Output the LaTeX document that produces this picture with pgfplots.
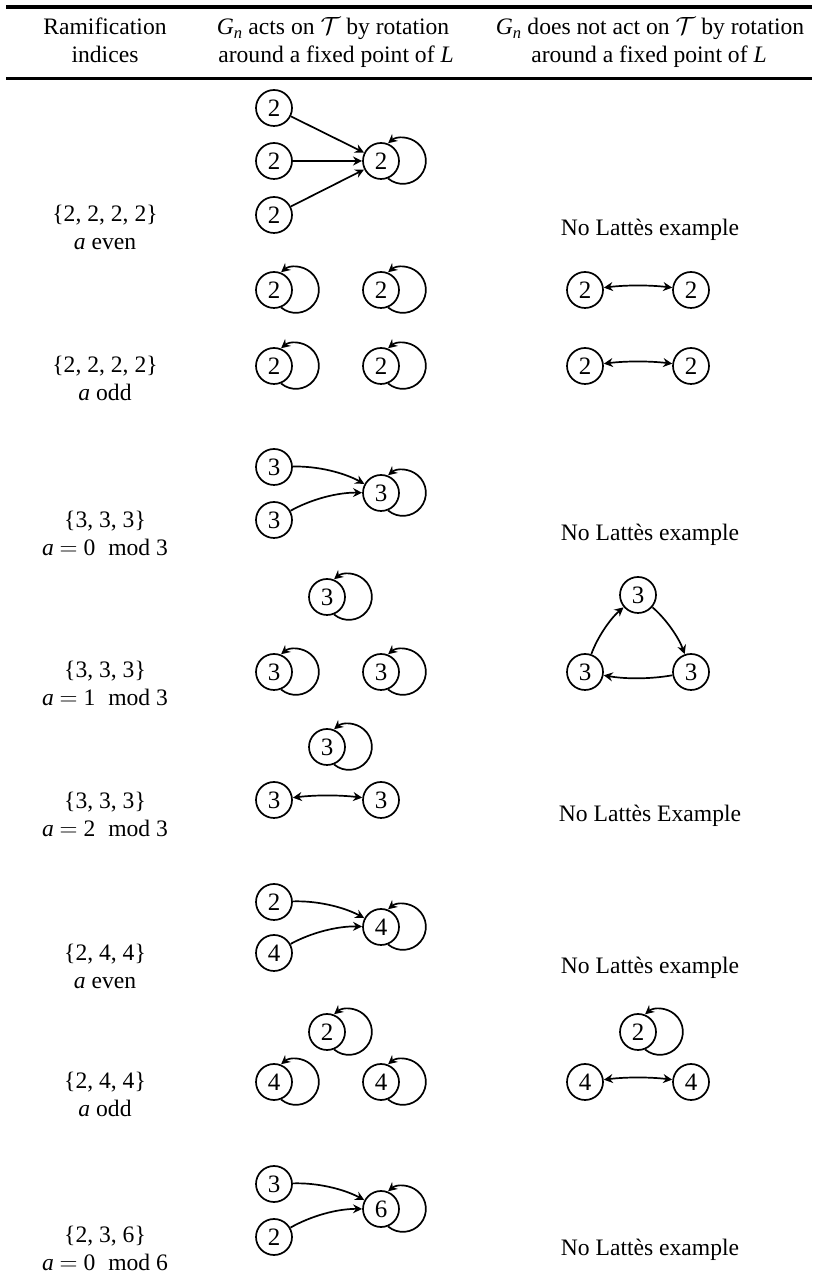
\documentclass[border=0pt]{standalone}
\usepackage{fontspec}
\setmainfont{Liberation Serif}
\usepackage{pgfplots}
\pgfplotsset{compat=1.18}
\usepackage{pgfplotstable}
\usetikzlibrary{arrows.meta}

\pgfplotstableread{
x y l
274 1173 2
274 1120 2
274 1066 2
381 1120 2
274 991 2
381 991 2
585 991 2
691 991 2
274 915 2
381 915 2
585 915 2
691 915 2
274 814 3
274 761 3
381 788 3
327 684 3
638 686 3
585 609 3
691 609 3
274 609 3
381 609 3
327 534 3
274 481 3
381 481 3
274 379 2
274 328 4
381 354 4
327 249 2
638 249 2
274 199 4
381 199 4
585 199 4
691 199 4
274 97 3
274 44 2
381 72 6
}\graphnodes

\newcommand\txtfont{\fontsize{23.6}{28.3}\selectfont}
\newcommand\digfont{\fontsize{25}{30}\selectfont}
\tikzset{
  tip/.tip={Stealth[length=9pt,width=9pt,inset=3pt]},
  edge/.style={line width=1.7pt,-tip},
  dedge/.style={line width=1.7pt,tip-tip},
  sh/.style={shorten >=19pt, shorten <=19pt},
  txt/.style={font=\txtfont, anchor=base, inner sep=0pt},
}
\newcommand\selfloop[2]{\draw[edge] (axis cs:#1,#2) ++(7.1pt,-17.5pt) arc[start angle=-130,end angle=130,radius=23pt];}
\newcommand\amod[2]{\textit{a} $=$ #1\hspace{0.55em}mod #2}

\begin{document}
\txtfont
\begin{tikzpicture}
\begin{axis}[name=ax, x=1pt, y=1pt, xmin=0, xmax=812, ymin=0, ymax=1281,
  hide axis, clip=false]
% rules
\addplot[line width=4pt, no marks] coordinates {(6,1274) (812,1274)};
\addplot[line width=3pt, no marks] coordinates {(6,1202) (812,1202)};
% header
\node[txt] at (axis cs:105,1246) {Ramification};
\node[txt] at (axis cs:105,1218) {indices};
\node[txt] at (axis cs:333,1246) {\textit{G}\textsubscript{\textit{n}} acts on $\mathcal{T}$ by rotation};
\node[txt] at (axis cs:336,1218) {around a fixed point of \textit{L}};
\node[txt] at (axis cs:650,1246) {\textit{G}\textsubscript{\textit{n}} does not act on $\mathcal{T}$ by rotation};
\node[txt] at (axis cs:649,1218) {around a fixed point of \textit{L}};
% first column
\node[txt] at (axis cs:105,1059) {\{2, 2, 2, 2\}};
\node[txt] at (axis cs:105,1031) {\textit{a} even};
\node[txt] at (axis cs:105,908) {\{2, 2, 2, 2\}};
\node[txt] at (axis cs:105,880) {\textit{a} odd};
\node[txt] at (axis cs:105,753) {\{3, 3, 3\}};
\node[txt] at (axis cs:105,725) {\amod{0}{3}};
\node[txt] at (axis cs:105,603) {\{3, 3, 3\}};
\node[txt] at (axis cs:105,575) {\amod{1}{3}};
\node[txt] at (axis cs:105,472) {\{3, 3, 3\}};
\node[txt] at (axis cs:105,444) {\amod{2}{3}};
\node[txt] at (axis cs:105,320) {\{2, 4, 4\}};
\node[txt] at (axis cs:105,292) {\textit{a} even};
\node[txt] at (axis cs:105,192) {\{2, 4, 4\}};
\node[txt] at (axis cs:105,164) {\textit{a} odd};
\node[txt] at (axis cs:105,38) {\{2, 3, 6\}};
\node[txt] at (axis cs:105,10) {\amod{0}{6}};
% third column
\node[txt] at (axis cs:650,1045.5) {No Lattès example};
\node[txt] at (axis cs:650,740.5) {No Lattès example};
\node[txt] at (axis cs:650,459.5) {No Lattès Example};
\node[txt] at (axis cs:650,307.5) {No Lattès example};
\node[txt] at (axis cs:650,25.5) {No Lattès example};
% straight edges
\addplot[edge, sh, no marks] coordinates {(274,1173) (381,1120)};
\addplot[edge, sh, no marks] coordinates {(274,1120) (381,1120)};
\addplot[edge, sh, no marks] coordinates {(274,1066) (381,1120)};
% bent edges
\draw[dedge, sh] (axis cs:585,991) to[bend left=7] (axis cs:691,991);
\draw[dedge, sh] (axis cs:585,915) to[bend left=7] (axis cs:691,915);
\draw[edge, sh] (axis cs:274,814) to[bend left=15] (axis cs:381,788);
\draw[edge, sh] (axis cs:274,761) to[bend left=15] (axis cs:381,788);
\draw[edge, sh] (axis cs:585,609) to[bend left=15] (axis cs:638,686);
\draw[edge, sh] (axis cs:638,686) to[bend left=15] (axis cs:691,609);
\draw[edge, sh] (axis cs:691,609) to[bend left=10] (axis cs:585,609);
\draw[dedge, sh] (axis cs:274,481) to[bend left=7] (axis cs:381,481);
\draw[edge, sh] (axis cs:274,379) to[bend left=15] (axis cs:381,354);
\draw[edge, sh] (axis cs:274,328) to[bend left=15] (axis cs:381,354);
\draw[dedge, sh] (axis cs:585,199) to[bend left=7] (axis cs:691,199);
\draw[edge, sh] (axis cs:274,97) to[bend left=15] (axis cs:381,72);
\draw[edge, sh] (axis cs:274,44) to[bend left=15] (axis cs:381,72);
% self loops
\selfloop{381}{1120}
\selfloop{274}{991}
\selfloop{381}{991}
\selfloop{274}{915}
\selfloop{381}{915}
\selfloop{381}{788}
\selfloop{327}{684}
\selfloop{274}{609}
\selfloop{381}{609}
\selfloop{327}{534}
\selfloop{381}{354}
\selfloop{327}{249}
\selfloop{638}{249}
\selfloop{274}{199}
\selfloop{381}{199}
\selfloop{381}{72}
% vertices
\addplot[only marks, mark=*, mark size=18pt,
  mark options={draw=black, fill=white, line width=1.7pt},
  nodes near coords={\digfont\pgfplotspointmeta}, point meta=explicit symbolic,
  every node near coord/.append style={anchor=center, inner sep=0pt}]
  table[x=x, y=y, meta=l] {\graphnodes};
\end{axis}
\pgfresetboundingbox
\path (ax.south west) rectangle (ax.north east);
\end{tikzpicture}
\end{document}
